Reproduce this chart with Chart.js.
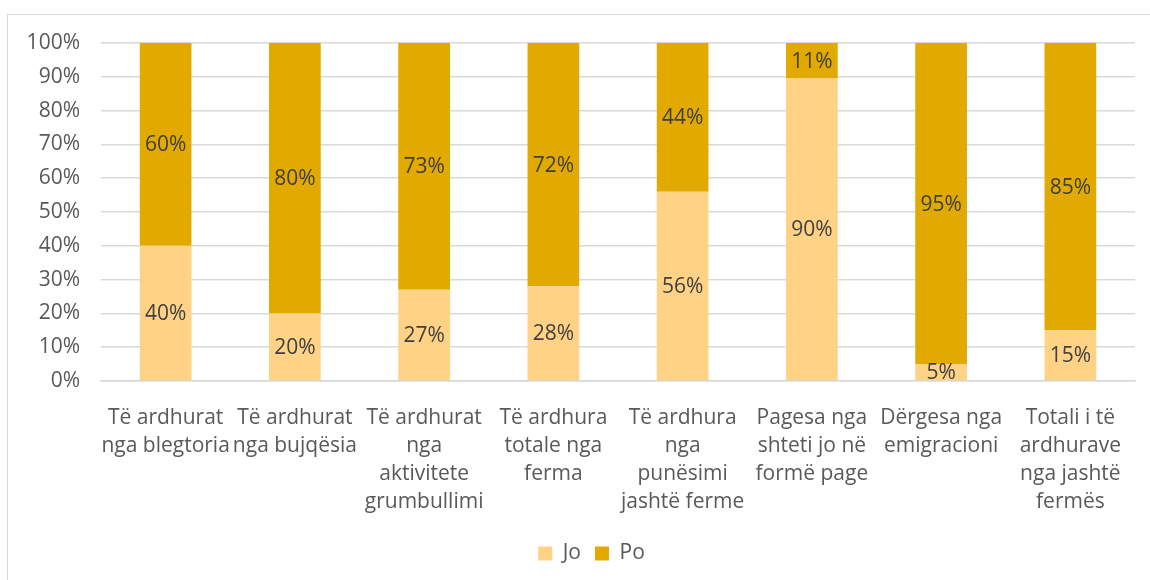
<!DOCTYPE html>
<html><head><meta charset="utf-8">
<script src="https://cdn.jsdelivr.net/npm/chart.js@4/dist/chart.umd.min.js"></script>
<style>html,body{margin:0;padding:0;background:#fff}#w{width:1150px;height:580px}</style>
</head><body><div id="w"><canvas id="c" width="1150" height="580"></canvas></div>
<script>
const categories = [
  ["Të ardhurat","nga blegtoria"],
  ["Të ardhurat","nga bujqësia"],
  ["Të ardhurat","nga","aktivitete","grumbullimi"],
  ["Të ardhura","totale nga","ferma"],
  ["Të ardhura","nga","punësimi","jashtë ferme"],
  ["Pagesa nga","shteti jo në","formë page"],
  ["Dërgesa nga","emigracioni"],
  ["Totali i të","ardhurave","nga jashtë","fermës"]
];
const joValues = [40, 20, 27, 28, 56, 89.5, 5, 15];
const poValues = [60, 80, 73, 72, 44, 10.5, 95, 85];
const yTicks = [0,10,20,30,40,50,60,70,80,90,100];
const FONT = "'Open Sans', 'Noto Sans', sans-serif";
const FS = 21;

const borderPlugin = {
  id:'border',
  beforeDraw(chart){
    const ctx = chart.ctx;
    ctx.save();
    ctx.strokeStyle = '#d9d9d9';
    ctx.lineWidth = 1;
    ctx.strokeRect(7.5, 14.5, 1200, 600);
    ctx.restore();
  }
};
const legendShift = {
  id:'legendShift',
  afterLayout(chart){
    if (chart.legend) { chart.legend.left += 24; chart.legend.right += 24; }
  }
};
const labelPlugin = {
  id:'vals',
  afterDatasetsDraw(chart){
    const ctx = chart.ctx;
    ctx.save();
    ctx.font = FS + "px " + FONT;
    ctx.fillStyle = '#404040';
    ctx.textAlign = 'center';
    ctx.textBaseline = 'middle';
    chart.data.datasets.forEach((ds, di) => {
      const meta = chart.getDatasetMeta(di);
      meta.data.forEach((bar, i) => {
        const v = ds.data[i];
        const y = (bar.y + bar.base) / 2;
        ctx.fillText(Math.round(v) + '%', bar.x, y + 1);
      });
    });
    ctx.restore();
  }
};

new Chart(document.getElementById('c'), {
  type:'bar',
  data:{
    labels: categories,
    datasets:[
      {label:'Jo', data: joValues, backgroundColor:'#FFD285', barPercentage:0.8, categoryPercentage:0.5},
      {label:'Po', data: poValues, backgroundColor:'#E2AA00', barPercentage:0.8, categoryPercentage:0.5}
    ]
  },
  options:{
    responsive:false,
    animation:false,
    layout:{padding:{top:43, right:15, left:0, bottom:6}},
    plugins:{
      legend:{
        position:'bottom',
        labels:{boxWidth:14, boxHeight:14, color:'#595959', font:{size:FS, family:FONT}, padding:14}
      },
      tooltip:{enabled:false}
    },
    scales:{
      x:{
        stacked:true,
        grid:{display:false},
        border:{display:true, color:'#d9d9d9', width:1.5},
        ticks:{color:'#595959', font:{size:FS, family:FONT, lineHeight:1.33}, maxRotation:0, autoSkip:false, padding:15},
        afterFit(s){ s.height = 148; }
      },
      y:{
        stacked:true, min:0, max:100,
        afterBuildTicks(s){ s.ticks = yTicks.map(v=>({value:v})); },
        grid:{color:'#d9d9d9', lineWidth:1.5, drawTicks:false},
        border:{display:false},
        ticks:{color:'#595959', font:{size:FS, family:FONT}, padding:21, callback:v=>v+'%'},
        afterFit(s){ s.width = 101; }
      }
    }
  },
  plugins:[borderPlugin, legendShift, labelPlugin]
});
</script></body></html>
